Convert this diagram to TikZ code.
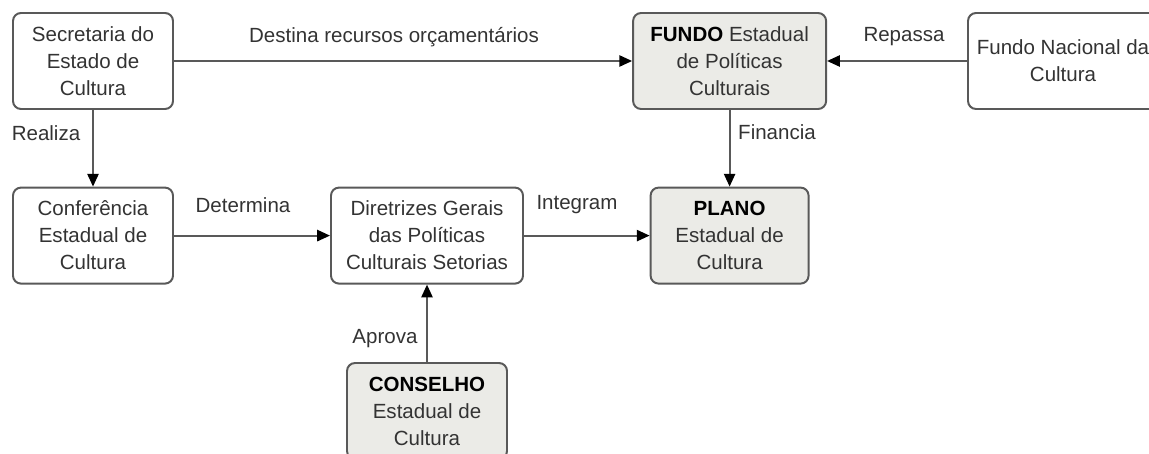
\documentclass[tikz,border=0pt]{standalone}
\usepackage{fontspec}
\setmainfont{Liberation Sans}
\usetikzlibrary{arrows.meta}
\definecolor{boxline}{HTML}{595959}
\definecolor{boxfill}{HTML}{EBEBE7}
\definecolor{txt}{HTML}{333333}
\tikzset{
  box/.style={draw=boxline, line width=1.4pt, rounded corners=0.2cm, fill=white,
    minimum height=2.4cm, inner sep=0pt, align=center, text=txt},
  greybox/.style={box, fill=boxfill},
  link/.style={draw=boxline, line width=1.4pt, -{Triangle[length=0.32cm,width=0.28cm,color=black]}},
  lbl/.style={text=txt, inner sep=0pt}
}
\begin{document}
\begin{tikzpicture}[font=\fontsize{14.6}{19.2}\selectfont]
\useasboundingbox (0,0) rectangle (28.725,-11.35);
\clip (0,0) rectangle (28.725,-11.35);

\node[box, minimum width=4cm] (secretaria) at (2.325,-1.525) {Secretaria do\\Estado de\\Cultura};
\node[greybox, minimum width=4.825cm] (fundo) at (18.24,-1.525) {\textcolor{black}{\textbf{FUNDO}} Estadual\\de Políticas\\Culturais};
\node[box, minimum width=4.75cm] (fnacional) at (26.575,-1.525) {Fundo Nacional da\\Cultura};

\node[box, minimum width=4cm] (conferencia) at (2.325,-5.89) {Conferência\\Estadual de\\Cultura};
\node[box, minimum width=4.8cm] (diretrizes) at (10.675,-5.89) {Diretrizes Gerais\\das Políticas\\Culturais Setorias};
\node[greybox, minimum width=3.95cm] (plano) at (18.24,-5.89) {\textcolor{black}{\textbf{PLANO}}\\Estadual de\\Cultura};
\node[greybox, minimum width=4cm] (conselho) at (10.675,-10.275) {\textcolor{black}{\textbf{CONSELHO}}\\Estadual de\\Cultura};

\draw[link] (secretaria) -- (fundo);
\draw[link] (fnacional) -- (fundo);
\draw[link] (secretaria) -- (conferencia);
\draw[link] (fundo) -- (plano);
\draw[link] (conferencia) -- (diretrizes);
\draw[link] (diretrizes) -- (plano);
\draw[link] (conselho) -- (diretrizes);

\node[lbl] (destina) at (9.85,-0.925) {Destina recursos orçamentários};
\node[lbl] (repassa) at (22.6,-0.925) {Repassa};
\node[lbl] (realiza) at (1.15,-3.325) {Realiza};
\node[lbl] (financia) at (19.425,-3.3) {Financia};
\node[lbl] (determina) at (6.075,-5.125) {Determina};
\node[lbl] (integram) at (14.425,-5.125) {Integram};
\node[lbl] (aprova) at (9.625,-8.475) {Aprova};
\end{tikzpicture}
\end{document}
